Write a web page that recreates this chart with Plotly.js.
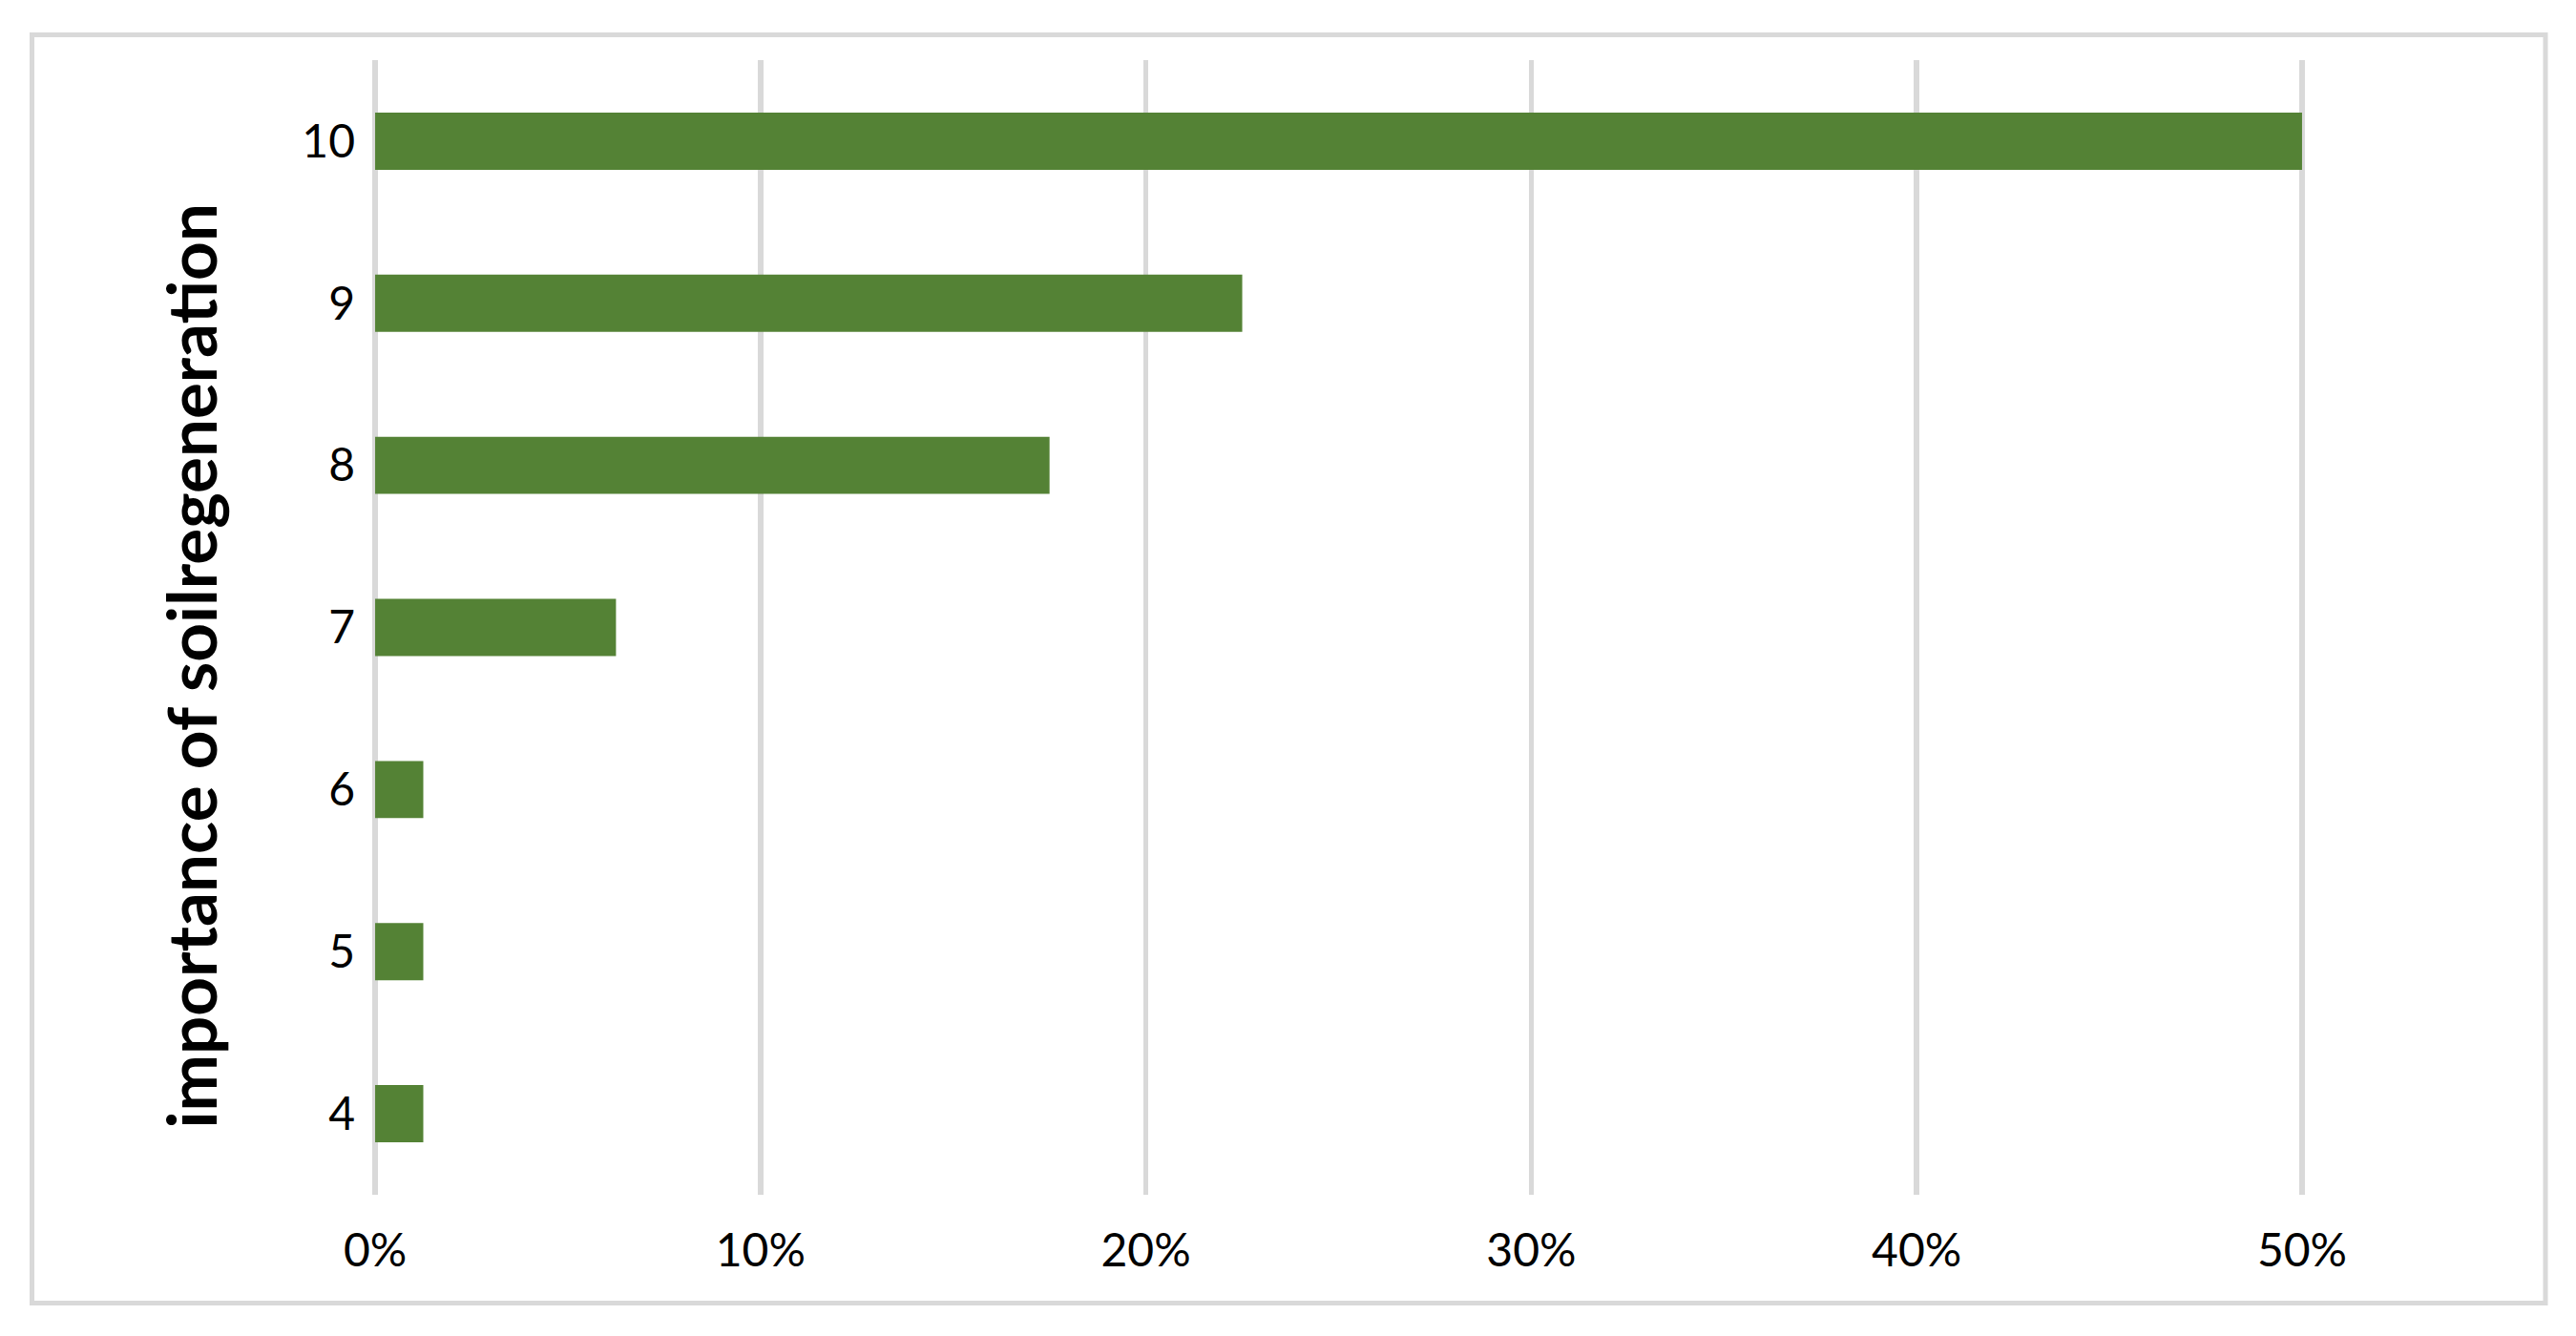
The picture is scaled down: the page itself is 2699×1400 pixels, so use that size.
<!DOCTYPE html>
<html>
<head>
<meta charset="utf-8">
<script src="https://cdn.plot.ly/plotly-3.0.1.min.js"></script>
<style>
html, body { margin: 0; padding: 0; background: #ffffff; }
#chart { width: 2699px; height: 1400px; }
</style>
</head>
<body>
<div id="chart"></div>
<script>
// Data
const categories = ['4', '5', '6', '7', '8', '9', '10'];
const shares = [0.0125, 0.0125, 0.0125, 0.0625, 0.175, 0.225, 0.50];
const xTickValues = [0, 0.1, 0.2, 0.3, 0.4, 0.5];
const xTickLabels = ['0%', '10%', '20%', '30%', '40%', '50%'];
const yTitle = 'importance of soilregeneration';

const W = 2699, H = 1400;
const mL = 389, mR = 283, mT = 63, mB = 148;
const plotW = W - mL - mR;

function pxToPaperX(px) { return (px - mL) / plotW; }
function pxToPaperY(py) { return (H - mB - py) / (H - mT - mB); }

const trace = {
  type: 'bar',
  orientation: 'h',
  x: shares,
  y: categories,
  marker: { color: '#548235', line: { width: 0 } },
  hoverinfo: 'skip'
};

const layout = {
  width: W,
  height: H,
  margin: { l: mL, r: mR, t: mT, b: mB, pad: 0 },
  paper_bgcolor: '#ffffff',
  plot_bgcolor: '#ffffff',
  showlegend: false,
  bargap: 0.647,
  font: { family: 'Lato, "Open Sans", sans-serif', color: '#000000', size: 48 },
  xaxis: {
    range: [-0.001, 0.501],
    tickvals: xTickValues,
    ticktext: xTickLabels,
    showgrid: true,
    gridcolor: '#d9d9d9',
    gridwidth: 5.5,
    zeroline: false,
    showline: false,
    ticks: '',
    ticklabelstandoff: 26,
    tickfont: { family: 'Lato', size: 48, color: '#000000' },
    fixedrange: true
  },
  yaxis: {
    type: 'category',
    categoryorder: 'array',
    categoryarray: categories,
    range: [-0.5, 6.5],
    showgrid: false,
    zeroline: false,
    showline: false,
    ticks: '',
    ticklabelstandoff: 16,
    tickfont: { family: 'Lato', size: 48, color: '#000000' },
    fixedrange: true
  },
  annotations: [{
    text: yTitle,
    xref: 'paper', yref: 'paper',
    x: pxToPaperX(199), y: pxToPaperY(698.5),
    xanchor: 'center', yanchor: 'middle',
    textangle: -90,
    showarrow: false,
    font: { family: 'Lato', size: 71, color: '#000000', weight: 'bold' }
  }],
  shapes: [{
    type: 'rect',
    xref: 'paper', yref: 'paper',
    x0: pxToPaperX(33.5), x1: pxToPaperX(2667),
    y0: pxToPaperY(1365.5), y1: pxToPaperY(36.5),
    line: { color: '#d9d9d9', width: 5 },
    fillcolor: 'rgba(0,0,0,0)',
    layer: 'below'
  }]
};

Plotly.newPlot('chart', [trace], layout, { displayModeBar: false, staticPlot: true });
</script>
</body>
</html>
